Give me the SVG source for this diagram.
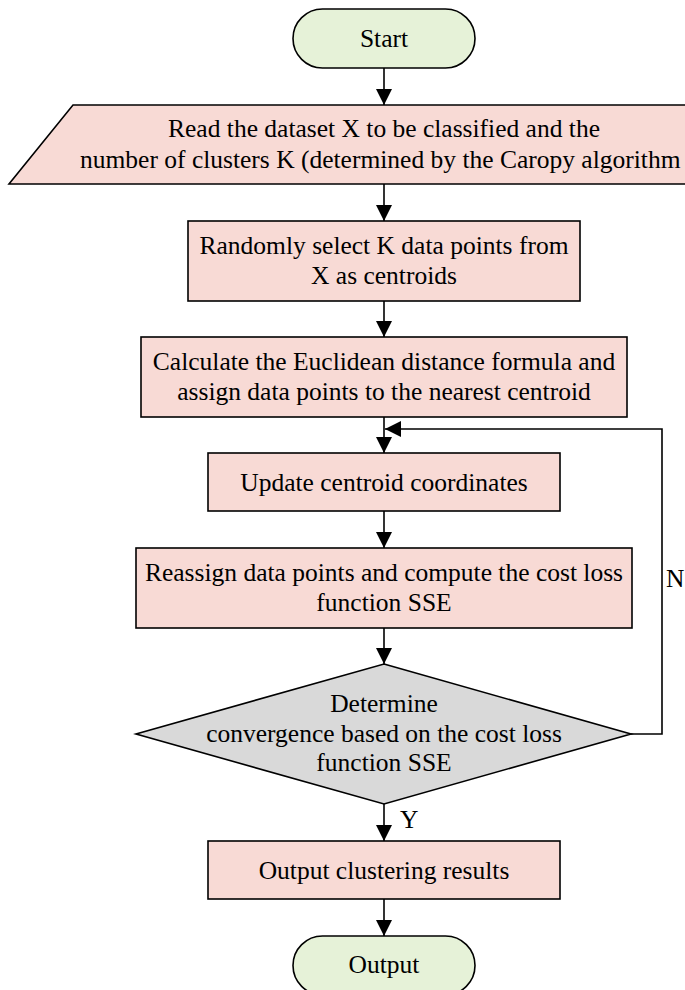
<svg xmlns="http://www.w3.org/2000/svg" width="685" height="990" viewBox="0 0 685 990">
<defs>
<marker id="ah" markerWidth="16" markerHeight="16" viewBox="0 0 16 16" refX="16" refY="8" orient="auto" markerUnits="userSpaceOnUse">
<path d="M0,0 L16,8 L0,16 Z" fill="#000"/>
</marker>
<style>
.t{font-family:"Liberation Serif","Times New Roman",serif;font-size:25.5px;fill:#000;text-anchor:middle}
.pink{fill:#F8DAD5;stroke:#000;stroke-width:1.6}
.green{fill:#E6F2D8;stroke:#000;stroke-width:1.6}
.gray{fill:#D9D9D9;stroke:#000;stroke-width:1.6}
.c{fill:none;stroke:#000;stroke-width:1.6}
</style>
</defs>
<rect width="685" height="990" fill="#fff"/>
<g id="connectors">
<line class="c" x1="384" y1="68" x2="384" y2="105" marker-end="url(#ah)"/>
<line class="c" x1="384" y1="184" x2="384" y2="221" marker-end="url(#ah)"/>
<line class="c" x1="384" y1="301" x2="384" y2="337" marker-end="url(#ah)"/>
<line class="c" x1="384" y1="417" x2="384" y2="453" marker-end="url(#ah)"/>
<line class="c" x1="384" y1="511" x2="384" y2="548" marker-end="url(#ah)"/>
<line class="c" x1="384" y1="628" x2="384" y2="664" marker-end="url(#ah)"/>
<line class="c" x1="384" y1="804" x2="384" y2="841" marker-end="url(#ah)"/>
<line class="c" x1="384" y1="899" x2="384" y2="936" marker-end="url(#ah)"/>
<polyline class="c" points="631,734 662,734 662,429 385,429" marker-end="url(#ah)"/>
<text class="t" x="400" y="828" style="text-anchor:start">Y</text>
<text class="t" x="666" y="587" style="text-anchor:start">N</text>
</g>
<g id="start">
<rect class="green" x="293" y="9" width="182" height="59" rx="29.5"/>
<text class="t" x="384" y="47">Start</text>
</g>
<g id="read">
<polygon class="pink" points="73,105 760,105 700,184 9,184"/>
<text class="t" x="384" y="137">Read the dataset X to be classified and the</text>
<text class="t" x="80" y="168" style="text-anchor:start">number of clusters K (determined by the Caropy algorithm</text>
</g>
<g id="select">
<rect class="pink" x="188" y="221" width="392" height="80"/>
<text class="t" x="384" y="253.5">Randomly select K data points from</text>
<text class="t" x="384" y="283.5">X as centroids</text>
</g>
<g id="assign">
<rect class="pink" x="141" y="337" width="486" height="80"/>
<text class="t" x="384" y="369.5">Calculate the Euclidean distance formula and</text>
<text class="t" x="384" y="399.5">assign data points to the nearest centroid</text>
</g>
<g id="update">
<rect class="pink" x="208" y="453" width="352" height="58"/>
<text class="t" x="384" y="490.5">Update centroid coordinates</text>
</g>
<g id="reassign">
<rect class="pink" x="136" y="548" width="496" height="80"/>
<text class="t" x="384" y="580.5">Reassign data points and compute the cost loss</text>
<text class="t" x="384" y="610.5">function SSE</text>
</g>
<g id="decide">
<polygon class="gray" points="384,664 631,734 384,804 136,734"/>
<text class="t" x="384" y="712">Determine</text>
<text class="t" x="384" y="742">convergence based on the cost loss</text>
<text class="t" x="384" y="771">function SSE</text>
</g>
<g id="results">
<rect class="pink" x="208" y="841" width="352" height="58"/>
<text class="t" x="384" y="878.5">Output clustering results</text>
</g>
<g id="output">
<rect class="green" x="293" y="936" width="182" height="59" rx="29.5"/>
<text class="t" x="384" y="973">Output</text>
</g>
</svg>
